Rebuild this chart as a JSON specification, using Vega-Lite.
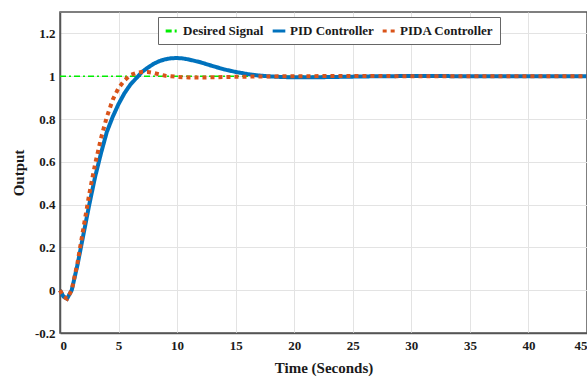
{
  "$schema": "https://vega.github.io/schema/vega-lite/v6.json",
  "autosize": "none",
  "width": 527,
  "height": 321,
  "padding": {"left": 60, "top": 12, "right": 0, "bottom": 57},
  "background": "white",
  "config": {
    "view": {"stroke": "#555", "strokeWidth": 1.5},
    "font": "Times New Roman, Liberation Serif, serif",
    "axis": {
      "labelFont": "Times New Roman, Liberation Serif, serif", "labelFontWeight": "bold", "labelFontSize": 13, "labelColor": "#1a1a1a",
      "titleFont": "Times New Roman, Liberation Serif, serif", "titleFontWeight": "bold", "titleFontSize": 15, "titleColor": "#1a1a1a",
      "gridColor": "#e3e3e3", "gridWidth": 1, "domainColor": "#555", "domainWidth": 1.5, "ticks": false
    },
    "legend": {"labelFont": "Times New Roman, Liberation Serif, serif"}
  },
  "data": {
    "values": [
      {"t": 0, "v": 1, "series": "Desired Signal"},
      {"t": 45, "v": 1, "series": "Desired Signal"},
      {"t": 0, "v": 0, "series": "PID Controller"},
      {"t": 0.3, "v": -0.03, "series": "PID Controller"},
      {"t": 0.6, "v": -0.04, "series": "PID Controller"},
      {"t": 1.0, "v": 0.0, "series": "PID Controller"},
      {"t": 1.5, "v": 0.12, "series": "PID Controller"},
      {"t": 2, "v": 0.26, "series": "PID Controller"},
      {"t": 2.5, "v": 0.4, "series": "PID Controller"},
      {"t": 3, "v": 0.53, "series": "PID Controller"},
      {"t": 3.5, "v": 0.64, "series": "PID Controller"},
      {"t": 4, "v": 0.74, "series": "PID Controller"},
      {"t": 4.5, "v": 0.81, "series": "PID Controller"},
      {"t": 5, "v": 0.87, "series": "PID Controller"},
      {"t": 5.5, "v": 0.92, "series": "PID Controller"},
      {"t": 6, "v": 0.96, "series": "PID Controller"},
      {"t": 6.5, "v": 0.99, "series": "PID Controller"},
      {"t": 7, "v": 1.02, "series": "PID Controller"},
      {"t": 7.5, "v": 1.04, "series": "PID Controller"},
      {"t": 8, "v": 1.058, "series": "PID Controller"},
      {"t": 8.5, "v": 1.071, "series": "PID Controller"},
      {"t": 9, "v": 1.079, "series": "PID Controller"},
      {"t": 9.5, "v": 1.084, "series": "PID Controller"},
      {"t": 10, "v": 1.085, "series": "PID Controller"},
      {"t": 10.5, "v": 1.083, "series": "PID Controller"},
      {"t": 11, "v": 1.078, "series": "PID Controller"},
      {"t": 12, "v": 1.065, "series": "PID Controller"},
      {"t": 13, "v": 1.048, "series": "PID Controller"},
      {"t": 14, "v": 1.032, "series": "PID Controller"},
      {"t": 15, "v": 1.02, "series": "PID Controller"},
      {"t": 16, "v": 1.01, "series": "PID Controller"},
      {"t": 17, "v": 1.003, "series": "PID Controller"},
      {"t": 18, "v": 0.999, "series": "PID Controller"},
      {"t": 19, "v": 0.996, "series": "PID Controller"},
      {"t": 20, "v": 0.995, "series": "PID Controller"},
      {"t": 22, "v": 0.995, "series": "PID Controller"},
      {"t": 24, "v": 0.997, "series": "PID Controller"},
      {"t": 26, "v": 0.999, "series": "PID Controller"},
      {"t": 28, "v": 1.0, "series": "PID Controller"},
      {"t": 30, "v": 1.001, "series": "PID Controller"},
      {"t": 35, "v": 1.0, "series": "PID Controller"},
      {"t": 40, "v": 1.0, "series": "PID Controller"},
      {"t": 45, "v": 1.0, "series": "PID Controller"},
      {"t": 0, "v": 0, "series": "PIDA Controller"},
      {"t": 0.3, "v": -0.03, "series": "PIDA Controller"},
      {"t": 0.6, "v": -0.04, "series": "PIDA Controller"},
      {"t": 1.0, "v": 0.0, "series": "PIDA Controller"},
      {"t": 1.5, "v": 0.13, "series": "PIDA Controller"},
      {"t": 2, "v": 0.29, "series": "PIDA Controller"},
      {"t": 2.5, "v": 0.45, "series": "PIDA Controller"},
      {"t": 3, "v": 0.59, "series": "PIDA Controller"},
      {"t": 3.5, "v": 0.71, "series": "PIDA Controller"},
      {"t": 4, "v": 0.81, "series": "PIDA Controller"},
      {"t": 4.5, "v": 0.89, "series": "PIDA Controller"},
      {"t": 5, "v": 0.945, "series": "PIDA Controller"},
      {"t": 5.5, "v": 0.98, "series": "PIDA Controller"},
      {"t": 6, "v": 1.005, "series": "PIDA Controller"},
      {"t": 6.5, "v": 1.015, "series": "PIDA Controller"},
      {"t": 7, "v": 1.02, "series": "PIDA Controller"},
      {"t": 7.5, "v": 1.02, "series": "PIDA Controller"},
      {"t": 8, "v": 1.015, "series": "PIDA Controller"},
      {"t": 8.5, "v": 1.008, "series": "PIDA Controller"},
      {"t": 9, "v": 1.002, "series": "PIDA Controller"},
      {"t": 10, "v": 0.997, "series": "PIDA Controller"},
      {"t": 11, "v": 0.994, "series": "PIDA Controller"},
      {"t": 12, "v": 0.994, "series": "PIDA Controller"},
      {"t": 13, "v": 0.995, "series": "PIDA Controller"},
      {"t": 14, "v": 0.996, "series": "PIDA Controller"},
      {"t": 16, "v": 0.998, "series": "PIDA Controller"},
      {"t": 18, "v": 0.999, "series": "PIDA Controller"},
      {"t": 20, "v": 1.0, "series": "PIDA Controller"},
      {"t": 25, "v": 1.001, "series": "PIDA Controller"},
      {"t": 30, "v": 1.0, "series": "PIDA Controller"},
      {"t": 45, "v": 1.0, "series": "PIDA Controller"}
    ]
  },
  "encoding": {
    "x": {"field": "t", "type": "quantitative", "title": "Time (Seconds)",
      "scale": {"domain": [0, 45], "nice": false},
      "axis": {"values": [0, 5, 10, 15, 20, 25, 30, 35, 40, 45], "labelPadding": 6, "titlePadding": 8}},
    "y": {"field": "v", "type": "quantitative", "title": "Output",
      "scale": {"domain": [-0.2, 1.3], "nice": false, "zero": false},
      "axis": {"values": [-0.2, 0, 0.2, 0.4, 0.6, 0.8, 1, 1.2], "labelExpr": "replace(format(datum.value, '.1~f'), '\u2212', '-')", "labelPadding": 5, "titlePadding": 8}},
    "color": {"field": "series", "type": "nominal",
      "scale": {"domain": ["Desired Signal", "PID Controller", "PIDA Controller"], "range": ["#00ee00", "#0072BD", "#D95319"]},
      "legend": {"title": null, "orient": "none", "legendX": 98, "legendY": 5, "direction": "horizontal",
        "fillColor": "white", "strokeColor": "#666", "padding": 6, "columnPadding": 2,
        "symbolType": "stroke", "symbolSize": 160, "symbolStrokeWidth": 3,
        "labelFontWeight": "bold", "labelFontSize": 13, "labelColor": "#1a1a1a", "labelOffset": 3}},
    "strokeDash": {"field": "series", "type": "nominal",
      "scale": {"domain": ["Desired Signal", "PID Controller", "PIDA Controller"], "range": [[6, 3, 2, 3], [1, 0], [4, 4]]},
      "legend": {"title": null, "orient": "none", "legendX": 98, "legendY": 5, "direction": "horizontal",
        "fillColor": "white", "strokeColor": "#666", "padding": 6, "columnPadding": 2,
        "symbolType": "stroke", "symbolSize": 160, "symbolStrokeWidth": 3,
        "labelFontWeight": "bold", "labelFontSize": 13, "labelColor": "#1a1a1a", "labelOffset": 3}}
  },
  "layer": [
    {"transform": [{"filter": "datum.series === 'Desired Signal'"}], "mark": {"type": "line", "strokeWidth": 1.6}},
    {"transform": [{"filter": "datum.series === 'PID Controller'"}], "mark": {"type": "line", "strokeWidth": 4}},
    {"transform": [{"filter": "datum.series === 'PIDA Controller'"}], "mark": {"type": "line", "strokeWidth": 4}}
  ]
}
